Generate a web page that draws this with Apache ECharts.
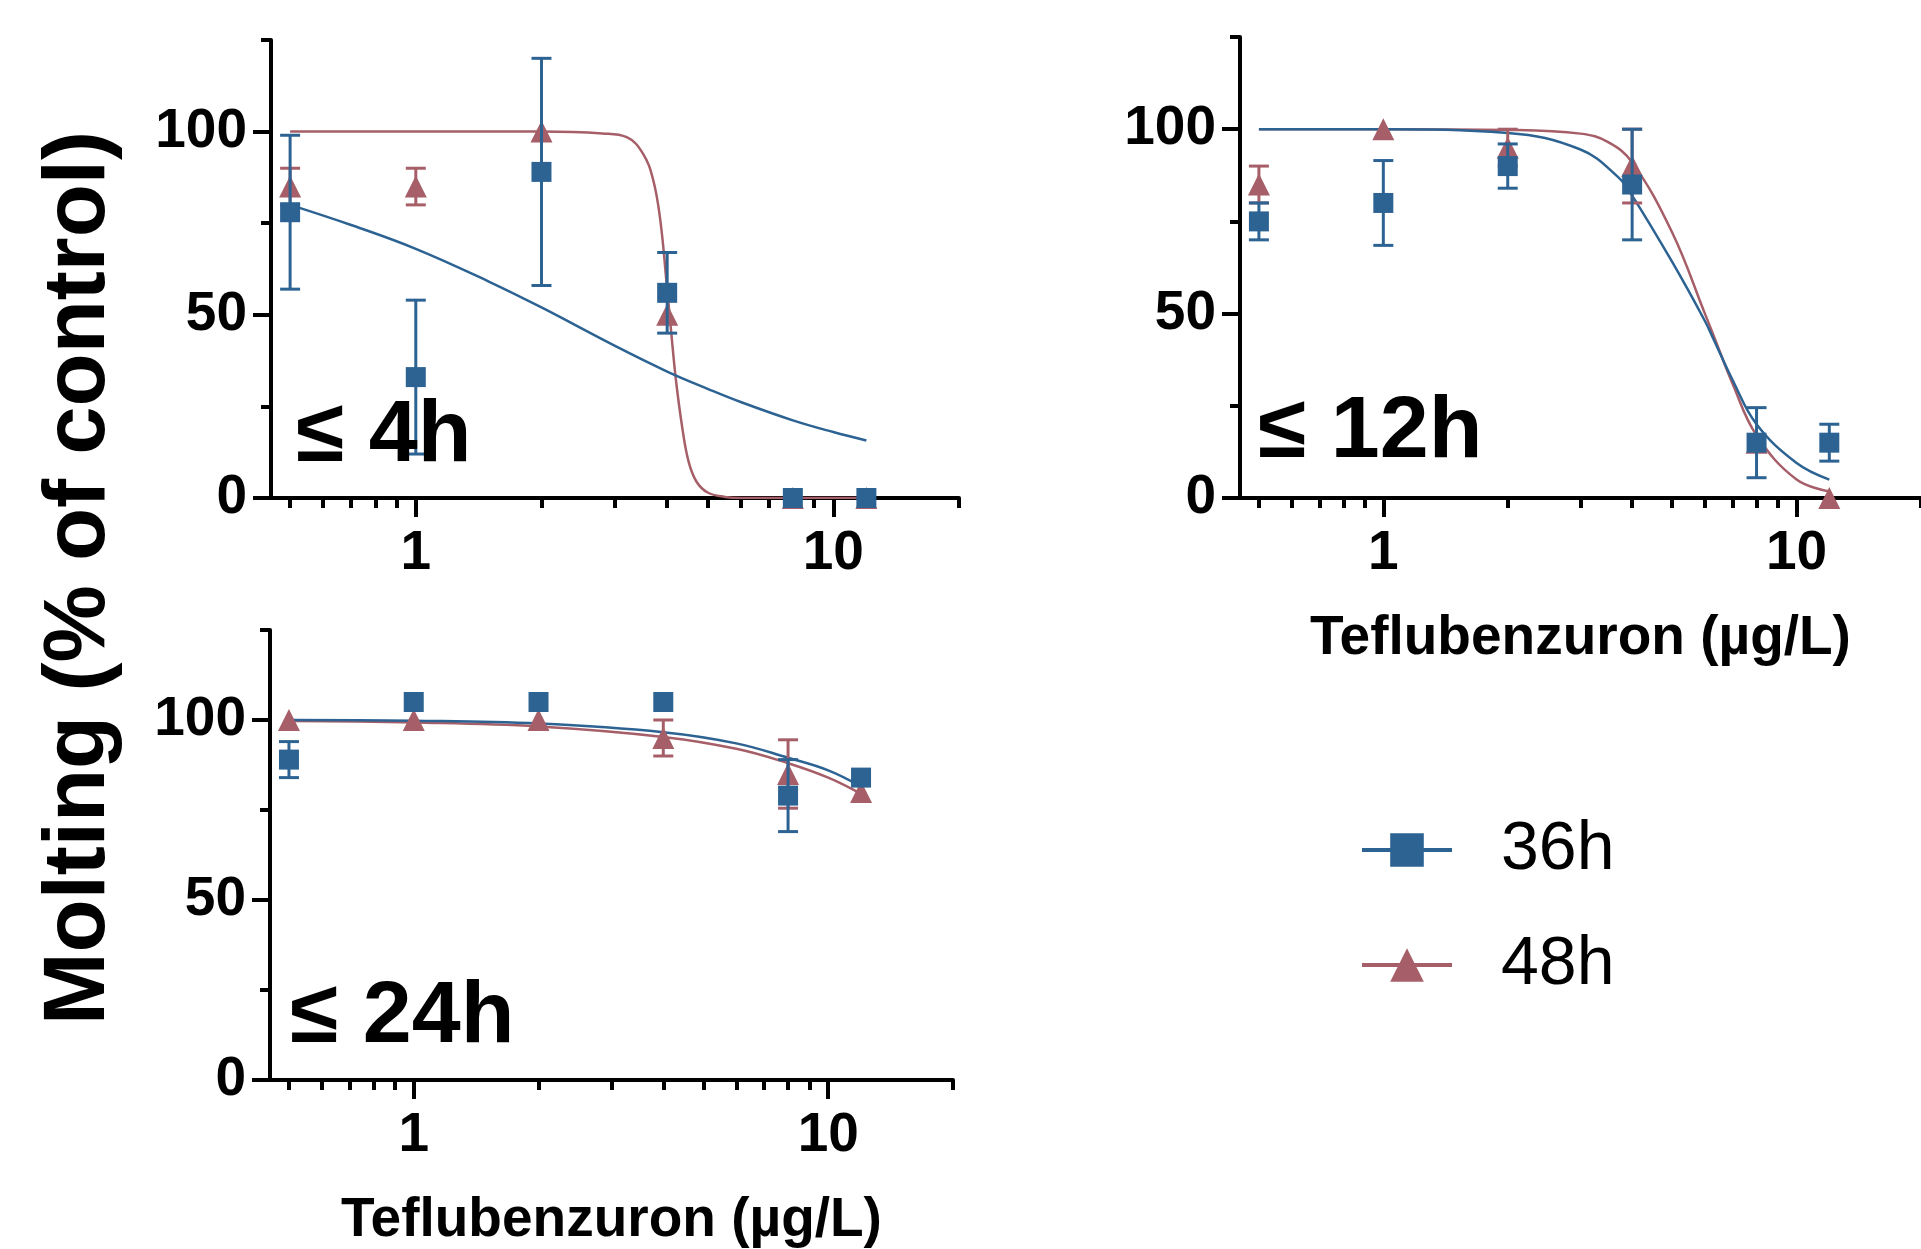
<!DOCTYPE html>
<html>
<head>
<meta charset="utf-8">
<title>Molting vs Teflubenzuron</title>
<script src="https://cdn.jsdelivr.net/npm/echarts@6/dist/echarts.min.js"></script>
<style>
  html, body { margin: 0; padding: 0; background: #fff; }
  #chart { width: 1921px; height: 1249px; }
</style>
</head>
<body>
<div id="chart"></div>
<script>
// doses (µg/L) shared by all panels
const doses = [0.5, 1, 2, 4, 8, 12]

// panel "≤ 4h"
const mean36_4h = [78, 33, 89, 56, 0, 0]
const err36_4h = [21, 21, 31, 11, 0, 0]
const mean48_4h = [85, 85, 100, 50, 0, 0]
const err48_4h = [5, 5, 0, 0, 0, 0]
const fitX36_4h = [0.5, 0.7, 1, 1.5, 2, 3, 4, 5, 6, 8, 10, 12]
const fitY36_4h = [80, 74.5, 68, 59, 52, 41.5, 34.5, 29.8, 26.2, 21.2, 18, 15.7]
const fitX48_4h = [0.5, 1, 2, 2.8, 3.2, 3.5, 3.7, 3.85, 4.0, 4.1, 4.2, 4.35, 4.5, 4.7, 5.0, 5.5, 6, 8, 12]
const fitY48_4h = [100, 100, 100, 99.5, 98.5, 94, 87, 76, 57, 44, 32, 19, 10, 4.5, 1.5, 0.3, 0, 0, 0]

// panel "≤ 12h"
const mean36_12h = [75, 80, 90, 85, 15, 15]
const err36_12h = [5, 11.5, 6, 15, 9.5, 5]
const mean48_12h = [85, 100, 95, 90, 15, 0]
const err48_12h = [5, 0, 5, 10, 0, 0]
const fitX36_12h = [0.5, 1, 2, 3, 3.7, 4, 5, 6, 6.3, 7, 8, 10, 12]
const fitY36_12h = [100, 100, 99, 94.5, 87, 82, 64, 48, 43, 32, 20, 9.5, 5]
const fitX48_12h = [0.5, 1, 2, 3, 3.5, 4, 5, 6, 6.3, 7, 8, 10, 12]
const fitY48_12h = [100, 100, 99.8, 98.8, 96.5, 91, 72, 50, 44, 31, 17, 5, 1.8]

// panel "≤ 24h"
const mean36_24h = [89, 105, 105, 105, 79, 84]
const err36_24h = [5, 0, 0, 0, 10, 0]
const mean48_24h = [100, 100, 100, 95, 85, 80]
const err48_24h = [0, 0, 0, 5, 9.5, 0]
const fitX36_24h = [0.5, 1, 2, 4, 6, 8, 10, 12]
const fitY36_24h = [100, 99.8, 99, 96.6, 93.5, 89.5, 86, 81.5]
const fitX48_24h = [0.5, 1, 2, 4, 6, 8, 10, 12]
const fitY48_24h = [99.7, 99.3, 98.2, 95.3, 92, 88, 84, 79.5]

// axis ticks
const xMajorTicks = [1, 10]
const xMinorTicks = [0.5, 0.6, 0.7, 0.8, 0.9, 2, 3, 4, 5, 6, 7, 8, 9, 20]
const yMajorTicks = [0, 50, 100]
const yMinorTicks = [25, 75, 125]

const seriesNames = ['36h', '48h']
const xTitle = 'Teflubenzuron (µg/L)'
const yTitle = 'Molting (% of control)'

const BLUE = '#2d6393'
const RED = '#a65f68'
const FONT = "'Liberation Sans', Arial, Helvetica, sans-serif"

const panels = [
  { label: '≤ 4h', grid: { left: 271, top: 40, width: 688, height: 458 }, labelPos: [296, 437], xName: '',
    m36: mean36_4h, e36: err36_4h, m48: mean48_4h, e48: err48_4h,
    fx36: fitX36_4h, fy36: fitY36_4h, fx48: fitX48_4h, fy48: fitY48_4h },
  { label: '≤ 12h', grid: { left: 1240, top: 37, width: 689, height: 461 }, labelPos: [1258, 433], xName: xTitle,
    m36: mean36_12h, e36: err36_12h, m48: mean48_12h, e48: err48_12h,
    fx36: fitX36_12h, fy36: fitY36_12h, fx48: fitX48_12h, fy48: fitY48_12h },
  { label: '≤ 24h', grid: { left: 270, top: 630, width: 683, height: 455 }, labelPos: [290, 1018], xName: xTitle,
    m36: mean36_24h, e36: err36_24h, m48: mean48_24h, e48: err48_24h,
    fx36: fitX36_24h, fy36: fitY36_24h, fx48: fitX48_24h, fy48: fitY48_24h }
]

const zip = (xs, ys) => xs.map((x, i) => [x, ys[i]])

const errData = (means, errs) =>
  doses.map((x, i) => [x, means[i] - errs[i], means[i] + errs[i]]).filter(d => d[2] > d[1])

const makeErrRender = (color) => (params, api) => {
  const x = api.value(0)
  const top = api.coord([x, api.value(2)])
  const bot = api.coord([x, api.value(1)])
  const hw = 10
  const style = { stroke: color, lineWidth: 3 }
  return {
    type: 'group',
    children: [
      { type: 'line', shape: { x1: top[0], y1: top[1], x2: bot[0], y2: bot[1] }, style },
      { type: 'line', shape: { x1: top[0] - hw, y1: top[1], x2: top[0] + hw, y2: top[1] }, style },
      { type: 'line', shape: { x1: bot[0] - hw, y1: bot[1], x2: bot[0] + hw, y2: bot[1] }, style }
    ]
  }
}

const axisLabelStyle = { fontSize: 55, fontWeight: 'bold', color: '#000', fontFamily: FONT }

const grids = []
const xAxes = []
const yAxes = []
const series = []
const graphics = []

panels.forEach((p, gi) => {
  grids.push(p.grid)
  const xMain = xAxes.length
  const yMain = yAxes.length

  xAxes.push({
    gridIndex: gi, type: 'log', logBase: 10, min: 0.45, max: 20, position: 'bottom',
    axisLine: { show: true, onZero: false, lineStyle: { color: '#000', width: 4 } },
    axisTick: { show: true, customValues: xMajorTicks, length: 19, lineStyle: { color: '#000', width: 4 } },
    axisLabel: { show: true, customValues: xMajorTicks, margin: 28, formatter: v => String(Math.round(v)), ...axisLabelStyle },
    splitLine: { show: false },
    name: p.xName, nameLocation: 'middle', nameGap: 113,
    nameTextStyle: { ...axisLabelStyle }
  })
  xAxes.push({
    gridIndex: gi, type: 'log', logBase: 10, min: 0.45, max: 20, position: 'bottom',
    axisLine: { show: false },
    axisTick: { show: true, customValues: xMinorTicks, length: 10, lineStyle: { color: '#000', width: 4 } },
    axisLabel: { show: false },
    splitLine: { show: false }
  })
  yAxes.push({
    gridIndex: gi, type: 'value', min: 0, max: 125, interval: 25, position: 'left',
    axisLine: { show: true, onZero: false, lineStyle: { color: '#000', width: 4 } },
    axisTick: { show: true, customValues: yMajorTicks, length: 18, lineStyle: { color: '#000', width: 4 } },
    axisLabel: { show: true, customValues: yMajorTicks, margin: 24, ...axisLabelStyle },
    splitLine: { show: false }
  })
  yAxes.push({
    gridIndex: gi, type: 'value', min: 0, max: 125, interval: 25, position: 'left',
    axisLine: { show: false },
    axisTick: { show: true, customValues: yMinorTicks, length: 10, lineStyle: { color: '#000', width: 4 } },
    axisLabel: { show: false },
    splitLine: { show: false }
  })

  const axes = { xAxisIndex: xMain, yAxisIndex: yMain }

  // fitted curves
  series.push({
    name: seriesNames[1], type: 'line', ...axes, data: zip(p.fx48, p.fy48),
    smooth: 0.4, showSymbol: false, symbol: 'triangle', color: RED,
    lineStyle: { color: RED, width: 2.5 }, z: 2
  })
  series.push({
    name: seriesNames[0], type: 'line', ...axes, data: zip(p.fx36, p.fy36),
    smooth: 0.4, showSymbol: false, symbol: 'rect', color: BLUE,
    lineStyle: { color: BLUE, width: 2.5 }, z: 2
  })

  // 48h error bars + points
  series.push({
    name: '48h err', type: 'custom', ...axes, data: errData(p.m48, p.e48),
    encode: { x: 0, y: [1, 2] }, renderItem: makeErrRender(RED), z: 3
  })
  series.push({
    name: '48h pts', type: 'scatter', ...axes, data: zip(doses, p.m48),
    symbol: 'triangle', symbolSize: 22, itemStyle: { color: RED, opacity: 1 }, z: 3
  })

  // 36h error bars + points on top
  series.push({
    name: '36h err', type: 'custom', ...axes, data: errData(p.m36, p.e36),
    encode: { x: 0, y: [1, 2] }, renderItem: makeErrRender(BLUE), z: 4
  })
  series.push({
    name: '36h pts', type: 'scatter', ...axes, data: zip(doses, p.m36),
    symbol: 'rect', symbolSize: 20, itemStyle: { color: BLUE, opacity: 1 }, z: 4
  })

  graphics.push({
    type: 'text', x: p.labelPos[0], y: p.labelPos[1], z: 10,
    style: { text: p.label, fontSize: 88, fontWeight: 'bold', fontFamily: FONT, fill: '#000', align: 'left', verticalAlign: 'middle' }
  })
})

graphics.push({
  type: 'text', x: 80, y: 578, rotation: Math.PI / 2, z: 10,
  style: { text: yTitle, fontSize: 87, fontWeight: 'bold', fontFamily: FONT, fill: '#000', align: 'center', verticalAlign: 'middle' }
})

const chart = echarts.init(document.getElementById('chart'), null, { renderer: 'canvas' })
chart.setOption({
  animation: false,
  backgroundColor: '#fff',
  textStyle: { fontFamily: FONT },
  grid: grids,
  xAxis: xAxes,
  yAxis: yAxes,
  legend: {
    data: seriesNames,
    orient: 'vertical',
    left: 1355,
    top: 811,
    itemWidth: 90,
    itemHeight: 42,
    itemGap: 47,
    selectedMode: false,
    lineStyle: { width: 4 },
    textStyle: { fontSize: 68, color: '#000', fontFamily: FONT, lineHeight: 68, padding: [0, 0, 0, 44] }
  },
  graphic: graphics,
  series: series
})
</script>
</body>
</html>
